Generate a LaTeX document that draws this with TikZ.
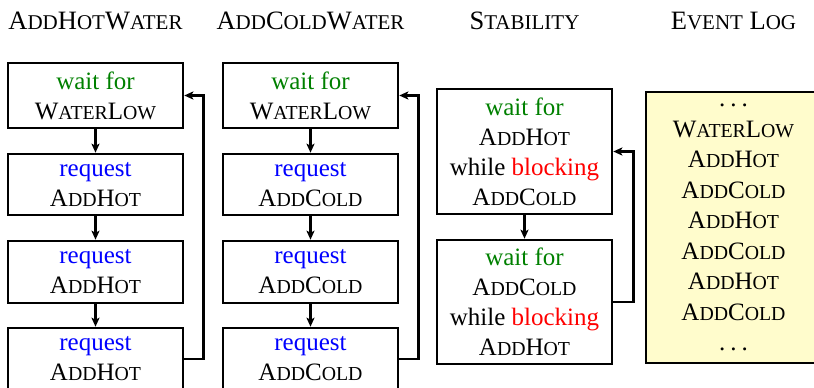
\documentclass[tikz,border=0pt]{standalone}
\usepackage{fontspec}
\setmainfont{Liberation Serif}
\usetikzlibrary{arrows.meta}
\newcommand\SCp[2]{#1{\fontsize{19.8pt}{30pt}\selectfont #2}}
\newcommand\SCt[2]{#1{\fontsize{21pt}{30pt}\selectfont #2}}
\newcommand\AddHot{\SCp{A}{DD}\SCp{H}{OT}}
\newcommand\AddCold{\SCp{A}{DD}\SCp{C}{OLD}}
\newcommand\WaterLow{\SCp{W}{ATER}\SCp{L}{OW}}
\newcommand\wfor{\textcolor{green!50!black}{wait for}}
\newcommand\rqst{\textcolor{blue}{request}}
\newcommand\wblk{while \textcolor{red}{blocking}}
\newcommand\dts{.\hspace{5pt}.\hspace{5pt}.}
\tikzset{
  box/.style={draw, line width=2.6pt, inner sep=0pt, minimum width=175pt, minimum height=62pt,
    align=center, font=\fontsize{25pt}{30pt}\selectfont},
  ttl/.style={anchor=base, font=\fontsize{26.5pt}{30pt}\selectfont, inner sep=0pt},
  arr/.style={line width=2.4pt, -{Stealth[length=9pt,width=8pt,inset=2pt]}},
}
\begin{document}
\begin{tikzpicture}[x=1pt,y=-1pt]
\useasboundingbox (0,0) rectangle (814,388);
% titles
\node[ttl] (t1) at (95.5,29) {\SCt{A}{DD}\SCt{H}{OT}\SCt{W}{ATER}};
\node[ttl] (t2) at (310.5,29) {\SCt{A}{DD}\SCt{C}{OLD}\SCt{W}{ATER}};
\node[ttl] (t3) at (524.5,29) {\SCt{S}{TABILITY}};
\node[ttl] (t4) at (733.5,29) {\SCt{E}{VENT} \SCt{L}{OG}};
% column A
\node[box, minimum height=65pt] (a1) at (95.5,95.5) {\wfor\\\WaterLow};
\node[box, minimum height=61pt] (a2) at (95.5,184.5) {\rqst\\\AddHot};
\node[box] (a3) at (95.5,272) {\rqst\\\AddHot};
\node[box] (a4) at (95.5,359) {\rqst\\\AddHot};
\draw[arr] (a1) -- (a2);
\draw[arr] (a2) -- (a3);
\draw[arr] (a3) -- (a4);
\draw[arr] (a4.east) -- ++(19,0) |- (a1.east);
% column B
\node[box, minimum height=65pt] (b1) at (310.5,95.5) {\wfor\\\WaterLow};
\node[box, minimum height=61pt] (b2) at (310.5,184.5) {\rqst\\\AddCold};
\node[box] (b3) at (310.5,272) {\rqst\\\AddCold};
\node[box] (b4) at (310.5,359) {\rqst\\\AddCold};
\draw[arr] (b1) -- (b2);
\draw[arr] (b2) -- (b3);
\draw[arr] (b3) -- (b4);
\draw[arr] (b4.east) -- ++(19,0) |- (b1.east);
% stability
\node[box, minimum height=125pt] (s1) at (524.5,151.5) {\wfor\\\AddHot\\\wblk\\\AddCold};
\node[box, minimum height=124pt] (s2) at (524.5,302) {\wfor\\\AddCold\\\wblk\\\AddHot};
\draw[arr] (s1) -- (s2);
\draw[arr] (s2.east) -- ++(20,0) |- (s1.east);
% event log
\node[box, fill=yellow!20, minimum height=271pt, font=\fontsize{25pt}{30.5pt}\selectfont] (e) at (733.5,227.5)
  {\dts\\\WaterLow\\\AddHot\\\AddCold\\\AddHot\\\AddCold\\\AddHot\\\AddCold\\\dts};
\end{tikzpicture}
\end{document}
